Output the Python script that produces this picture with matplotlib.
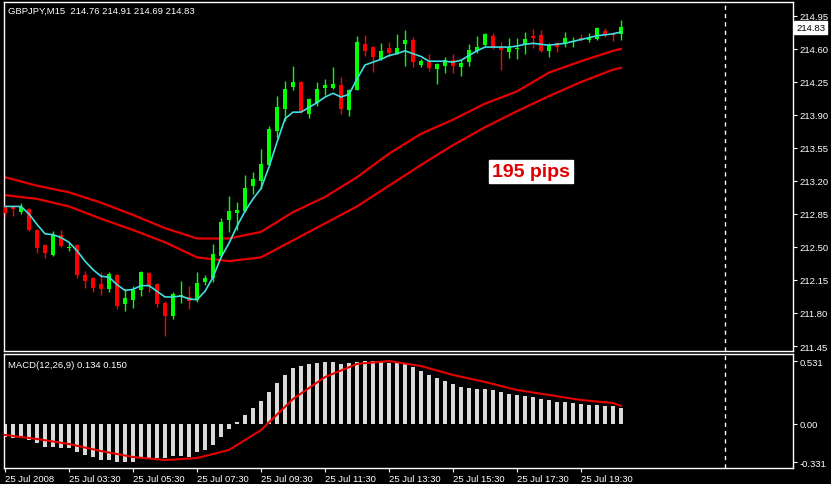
import matplotlib
matplotlib.use("Agg")
import matplotlib.pyplot as plt
import matplotlib.transforms as mtransforms
import numpy as np

# GBPJPY M15, 25 Jul 2008, bars from 01:30
opens = [212.92, 212.92, 212.87, 212.90, 212.68, 212.52, 212.41, 212.63, 212.49, 212.52,
         212.20, 212.17, 212.11, 212.05, 212.20, 211.90, 211.94, 212.04, 212.22, 212.11,
         211.91, 211.77, 211.98, 211.97, 211.94, 212.13, 212.17, 212.40, 212.79, 212.86,
         212.88, 213.15, 213.20, 213.37, 213.73, 213.96, 214.20, 214.25, 213.91, 214.03,
         214.19, 214.19, 214.22, 213.95, 214.17, 214.65, 214.62, 214.49, 214.61, 214.56,
         214.65, 214.69, 214.43, 214.46, 214.39, 214.42, 214.48, 214.41, 214.46, 214.58,
         214.64, 214.74, 214.62, 214.57, 214.60, 214.64, 214.74, 214.75, 214.58, 214.66,
         214.65, 214.69, 214.72, 214.69, 214.71, 214.79, 214.76, 214.76]
highs = [212.95, 212.95, 212.97, 212.91, 212.69, 212.53, 212.67, 212.68, 212.54, 212.53,
         212.25, 212.18, 212.24, 212.24, 212.21, 212.05, 212.09, 212.25, 212.24, 212.12,
         211.93, 212.02, 212.14, 212.09, 212.24, 212.20, 212.53, 212.81, 213.04, 212.98,
         213.26, 213.30, 213.54, 213.78, 214.10, 214.26, 214.42, 214.26, 214.08, 214.25,
         214.28, 214.41, 214.30, 214.18, 214.74, 214.75, 214.63, 214.66, 214.67, 214.76,
         214.80, 214.73, 214.49, 214.55, 214.45, 214.51, 214.55, 214.49, 214.65, 214.74,
         214.77, 214.77, 214.67, 214.72, 214.72, 214.78, 214.81, 214.80, 214.66, 214.67,
         214.78, 214.73, 214.76, 214.77, 214.83, 214.82, 214.78, 214.91]
lows = [212.82, 212.83, 212.85, 212.67, 212.44, 212.38, 212.40, 212.50, 212.46, 212.17,
        212.07, 212.02, 211.99, 212.02, 211.84, 211.82, 211.85, 211.98, 212.02, 211.86,
        211.56, 211.74, 211.91, 211.84, 211.92, 212.10, 212.13, 212.39, 212.66, 212.68,
        212.87, 213.06, 213.11, 213.36, 213.66, 213.84, 214.16, 213.92, 213.87, 214.00,
        214.11, 214.18, 213.91, 213.89, 214.16, 214.53, 214.36, 214.48, 214.52, 214.55,
        214.42, 214.41, 214.41, 214.37, 214.23, 214.35, 214.35, 214.31, 214.42, 214.56,
        214.63, 214.60, 214.38, 214.50, 214.49, 214.55, 214.61, 214.57, 214.52, 214.57,
        214.62, 214.62, 214.68, 214.67, 214.70, 214.73, 214.68, 214.69]
closes = [212.86, 212.90, 212.92, 212.68, 212.49, 212.44, 212.63, 212.51, 212.50, 212.20,
          212.14, 212.06, 212.05, 212.21, 211.87, 211.96, 212.04, 212.24, 212.09, 211.90,
          211.77, 212.00, 211.99, 211.93, 212.12, 212.17, 212.43, 212.76, 212.88, 212.89,
          213.13, 213.22, 213.38, 213.75, 213.98, 214.18, 214.25, 213.93, 214.07, 214.18,
          214.22, 214.23, 213.96, 214.17, 214.67, 214.58, 214.51, 214.58, 214.56, 214.61,
          214.69, 214.46, 214.47, 214.40, 214.44, 214.48, 214.42, 214.45, 214.59, 214.62,
          214.76, 214.62, 214.59, 214.62, 214.61, 214.71, 214.72, 214.58, 214.64, 214.62,
          214.72, 214.70, 214.69, 214.72, 214.82, 214.75, 214.75, 214.83]

# fast moving average (cyan), one value per bar
fast_ma = [212.93, 212.93, 212.93, 212.85, 212.74, 212.64, 212.63, 212.60, 212.55, 212.46,
           212.35, 212.26, 212.19, 212.18, 212.10, 212.04, 212.05, 212.09, 212.09, 212.03,
           211.97, 211.97, 211.98, 211.95, 211.94, 212.03, 212.18, 212.39, 212.54, 212.72,
           212.88, 213.01, 213.12, 213.35, 213.61, 213.86, 213.93, 213.93, 213.98, 214.03,
           214.09, 214.13, 214.09, 214.12, 214.28, 214.43, 214.46, 214.49, 214.53, 214.55,
           214.58, 214.55, 214.52, 214.47, 214.47, 214.47, 214.46, 214.48, 214.53, 214.58,
           214.62, 214.62, 214.62, 214.62, 214.63, 214.65, 214.66, 214.65, 214.64, 214.65,
           214.66, 214.68, 214.70, 214.72, 214.74, 214.75, 214.76, 214.78]

# slow channel lines (red), sampled every 4 bars
chan_bars = [0, 4, 8, 12, 16, 20, 24, 28, 32, 36, 40, 44, 48, 52, 56, 60, 64, 68, 72, 76, 77]
chan_upper = [213.24, 213.15, 213.08, 212.97, 212.84, 212.70, 212.59, 212.59, 212.66, 212.87,
              213.03, 213.24, 213.49, 213.70, 213.85, 214.02, 214.15, 214.35, 214.47, 214.58, 214.60]
chan_lower = [213.05, 213.01, 212.93, 212.80, 212.68, 212.55, 212.39, 212.35, 212.39, 212.57,
              212.75, 212.93, 213.15, 213.37, 213.58, 213.77, 213.94, 214.10, 214.25, 214.38, 214.40]

# MACD(12,26,9)
macd_hist = [-0.115, -0.124, -0.124, -0.141, -0.167, -0.201, -0.201, -0.209, -0.209, -0.244,
             -0.269, -0.286, -0.312, -0.312, -0.329, -0.329, -0.331, -0.295, -0.295, -0.295,
             -0.295, -0.278, -0.278, -0.286, -0.244, -0.226, -0.184, -0.115, -0.047, 0.013,
             0.073, 0.132, 0.192, 0.269, 0.346, 0.415, 0.474, 0.491, 0.509, 0.520,
             0.525, 0.525, 0.509, 0.520, 0.525, 0.531, 0.531, 0.530, 0.520, 0.520,
             0.509, 0.483, 0.449, 0.415, 0.389, 0.363, 0.338, 0.312, 0.303, 0.295,
             0.295, 0.286, 0.269, 0.252, 0.244, 0.235, 0.226, 0.209, 0.201, 0.184,
             0.184, 0.175, 0.167, 0.158, 0.158, 0.150, 0.150, 0.134]
signal = [-0.098, -0.132, -0.175, -0.235, -0.286, -0.312, -0.295, -0.226, -0.056, 0.209,
          0.397, 0.509, 0.534, 0.491, 0.415, 0.355, 0.286, 0.244, 0.201, 0.175, 0.150]

price_ticks = [211.45, 211.80, 212.15, 212.50, 212.85, 213.20, 213.55, 213.90, 214.25, 214.60, 214.95]
time_tick_bars = [0, 8, 16, 24, 32, 40, 48, 56, 64, 72]
time_labels = ["25 Jul 2008", "25 Jul 03:30", "25 Jul 05:30", "25 Jul 07:30", "25 Jul 09:30",
               "25 Jul 11:30", "25 Jul 13:30", "25 Jul 15:30", "25 Jul 17:30", "25 Jul 19:30"]
macd_ticks = [-0.331, 0.0, 0.531]
macd_labels = ["-0.331", "0.00", "0.531"]
separator_bar = 90

plt.rcParams['font.family'] = ['Liberation Sans', 'DejaVu Sans']
FS = 6.8
BULL, BEAR = '#00ff00', '#ff0000'

fig = plt.figure(figsize=(8.31, 4.85), dpi=100, facecolor='black')
W, H = 831, 485
ax = fig.add_axes([4 / W, 1 - 352 / H, 789 / W, 349 / H], facecolor='black')
axm = fig.add_axes([4 / W, 1 - 469 / H, 789 / W, 114 / H], facecolor='black')

x = np.arange(len(opens))
o, h, l, c = map(np.array, (opens, highs, lows, closes))
up = c >= o
cols = np.where(up, BULL, BEAR)

ax.plot(chan_bars, chan_upper, color='#e60000', lw=1.6, zorder=2)
ax.plot(chan_bars, chan_lower, color='#e60000', lw=1.6, zorder=2)
ax.vlines(x, l, h, colors=cols, lw=1, zorder=3)
ax.bar(x, np.maximum(np.abs(c - o), 0.008), bottom=np.minimum(o, c), width=0.62,
       color=cols, linewidth=0, zorder=4)
ax.plot(x, fast_ma, color='#40e0e0', lw=1.2, zorder=5)

axm.bar(x, macd_hist, width=0.62, color='#d8d8d8', linewidth=0, zorder=2)
axm.plot(chan_bars, signal, color='#e60000', lw=1.5, zorder=3)

for a in (ax, axm):
    a.set_xlim(-0.125, 98.5)
    for s in a.spines.values():
        s.set_color('white')
        s.set_linewidth(1)
    a.yaxis.tick_right()
    a.tick_params(axis='y', colors='white', labelsize=FS, length=3, width=0.8, pad=1.5)
    a.axvline(separator_bar, color='white', lw=1, ls=(0, (3, 3)), zorder=1)

ax.set_ylim(211.397, 215.098)
ax.set_yticks(price_ticks)
ax.set_yticklabels([f"{p:.2f}" for p in price_ticks])
ax.set_xticks([])

axm.set_ylim(-0.380, 0.594)
axm.set_yticks(macd_ticks)
axm.set_yticklabels(macd_labels)
axm.set_xticks(time_tick_bars)
axm.set_xticklabels(time_labels, ha='left')
axm.tick_params(axis='x', colors='white', labelsize=FS, length=3, width=0.8, pad=1.5)

ax.text(4 / 789, 0.977, "GBPJPY,M15  214.76 214.91 214.69 214.83", transform=ax.transAxes,
        color='white', fontsize=FS, va='center', ha='left')
axm.text(4 / 789, 0.91, "MACD(12,26,9) 0.134 0.150", transform=axm.transAxes,
         color='white', fontsize=FS, va='center', ha='left')

trans = mtransforms.blended_transform_factory(ax.transAxes, ax.transData)
ax.text(1.004, closes[-1], f"{closes[-1]:.2f}", transform=trans, color='black', fontsize=FS,
        va='center', ha='left',
        bbox=dict(boxstyle='square,pad=0.2', facecolor='white', edgecolor='white'))

ax.text(65.75, 213.30, "195 pips", color='#e00000', fontsize=14, fontweight='bold',
        ha='center', va='center',
        bbox=dict(boxstyle='square,pad=0.15', facecolor='white', edgecolor='white'))

fig.savefig("out.png", dpi=100, facecolor='black')
